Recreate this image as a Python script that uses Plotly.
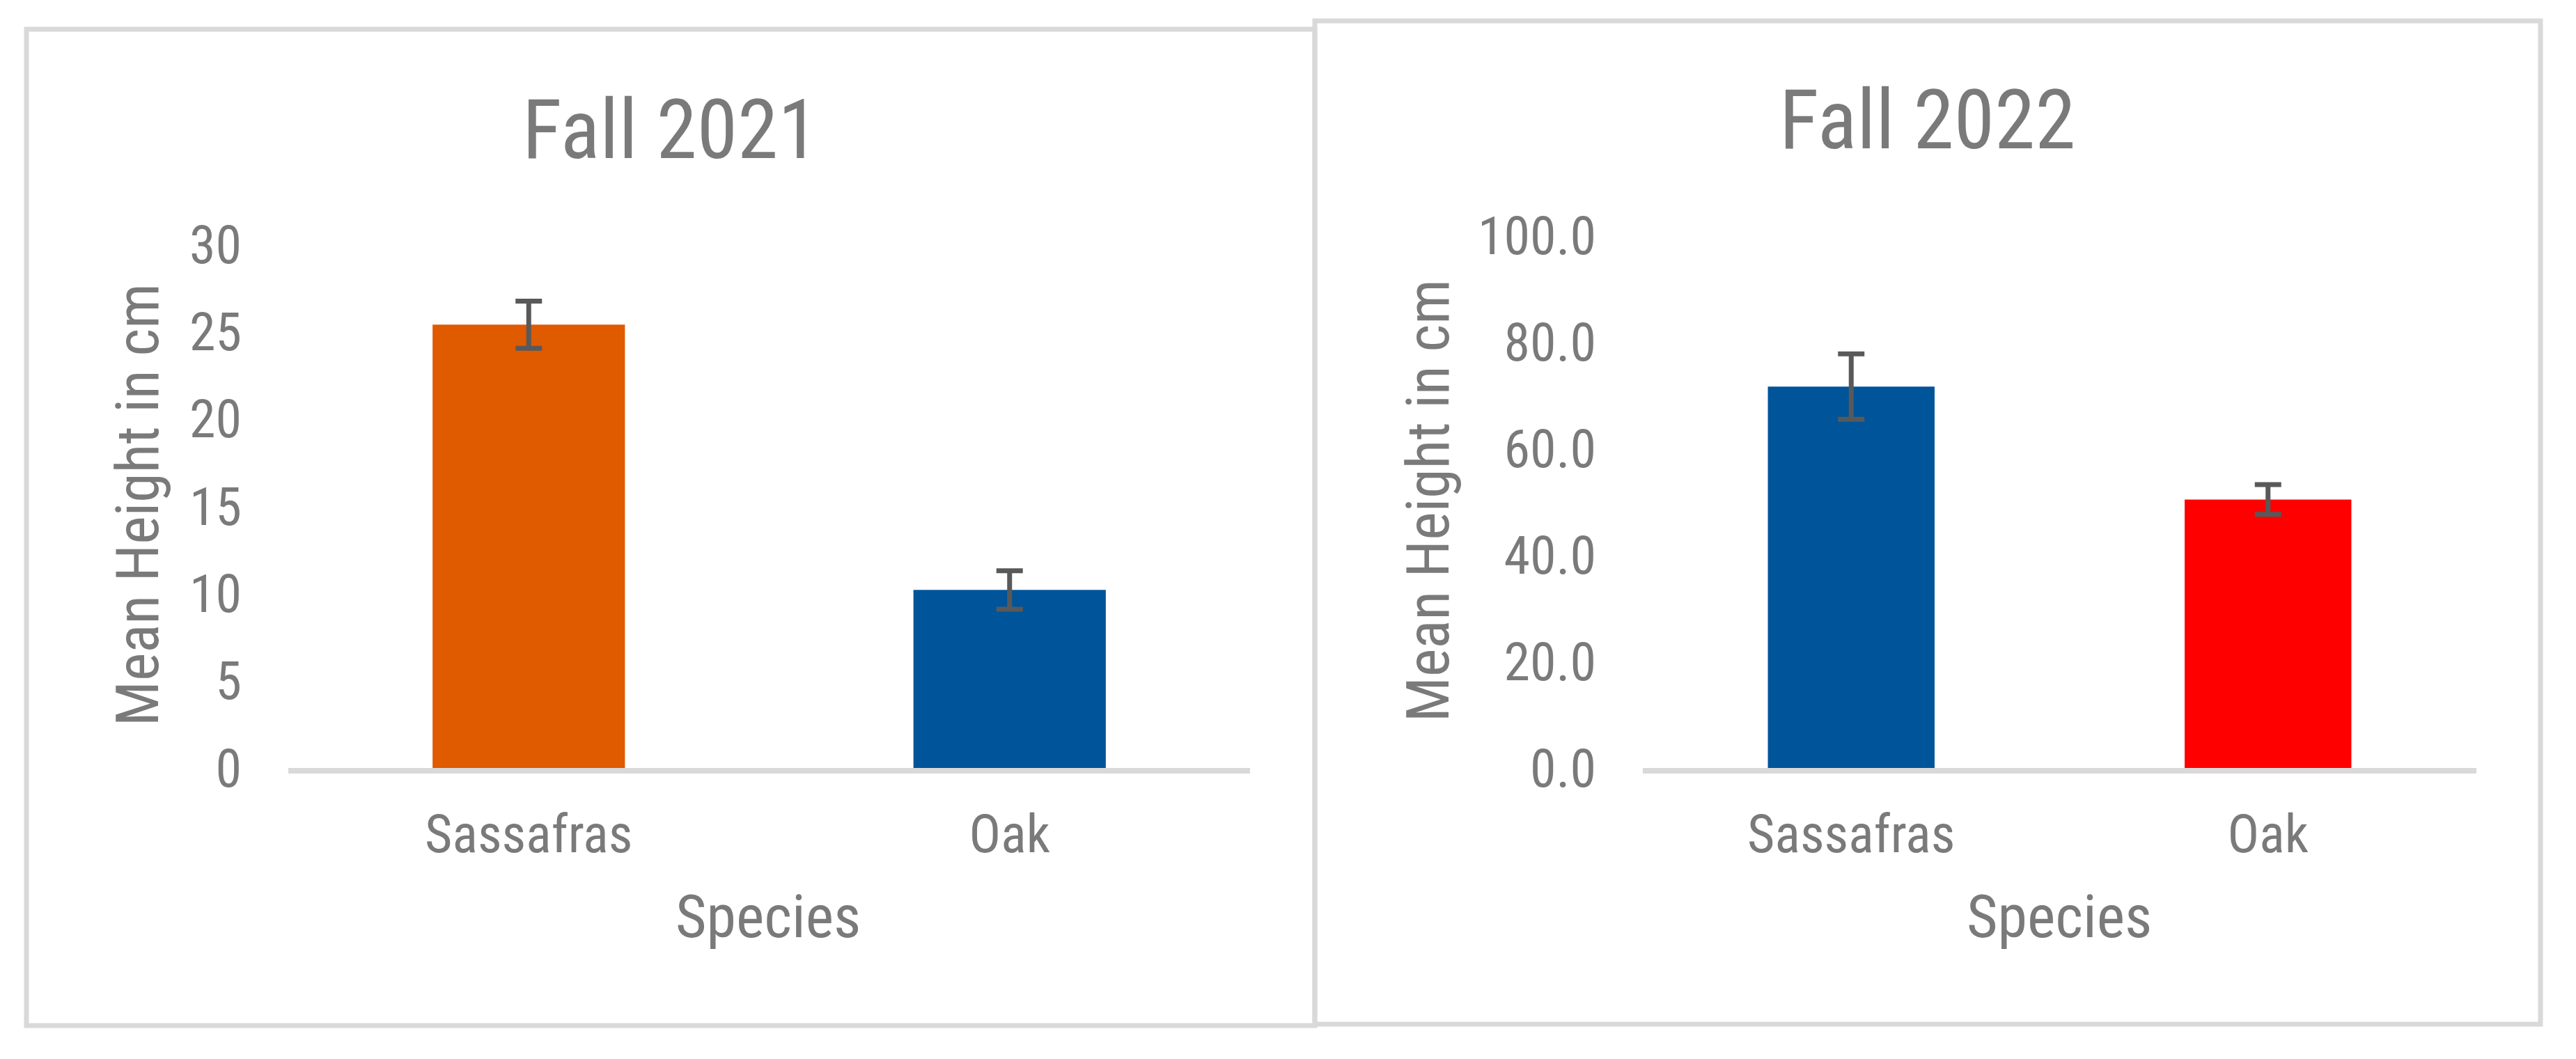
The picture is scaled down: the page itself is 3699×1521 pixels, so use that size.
import plotly.graph_objects as go

categories = ["Sassafras", "Oak"]
fall_2021_mean = [25.4, 10.2]
fall_2021_err = [1.35, 1.1]
fall_2022_mean = [71.6, 50.4]
fall_2022_err = [6.15, 2.8]
fall_2021_colors = ["#E05A00", "#00549A"]
fall_2022_colors = ["#00549A", "#FF0000"]
y1_ticks = [0, 5, 10, 15, 20, 25, 30]
y2_ticks = [0, 20, 40, 60, 80, 100]

W, H, OFF = 3683, 1505, 8


def px(x):
    return (x - OFF) / W


def py(y):
    return 1 - (y - OFF) / H


FONT = "Roboto Condensed, Liberation Sans Narrow, Arial Narrow, sans-serif"
TXT = "#7a7a7a"
ERR = "#595959"
BORDER = "#D9D9D9"

fig = go.Figure()
fig.add_trace(go.Bar(
    x=categories, y=fall_2021_mean,
    marker=dict(color=fall_2021_colors, line_width=0),
    error_y=dict(type="data", array=fall_2021_err, color=ERR, thickness=7, width=19),
    xaxis="x", yaxis="y", showlegend=False, hoverinfo="x+y"))
fig.add_trace(go.Bar(
    x=categories, y=fall_2022_mean,
    marker=dict(color=fall_2022_colors, line_width=0),
    error_y=dict(type="data", array=fall_2022_err, color=ERR, thickness=7, width=19),
    xaxis="x2", yaxis="y2", showlegend=False, hoverinfo="x+y"))

tickfont = dict(family=FONT, size=76, color=TXT)
xcommon = dict(showline=True, linecolor=BORDER, linewidth=8, ticks="", showgrid=False,
               zeroline=False, tickfont=tickfont, ticklabelstandoff=22, fixedrange=True,
               automargin=False)
ycommon = dict(showline=False, ticks="", showgrid=False, zeroline=False,
               tickfont=tickfont, ticklabelstandoff=66, fixedrange=True, automargin=False)

fig.update_layout(
    template="none",
    width=W, height=H,
    margin=dict(l=0, r=0, t=0, b=0, pad=0, autoexpand=False),
    showlegend=False,
    paper_bgcolor="white", plot_bgcolor="white",
    bargap=0.6,
    font=dict(family=FONT, color=TXT),
    xaxis=dict(domain=[px(414), px(1795)], anchor="y", **xcommon),
    yaxis=dict(domain=[py(1103), py(351)], anchor="x", range=[0, 30],
               tickvals=y1_ticks, **ycommon),
    xaxis2=dict(domain=[px(2359), px(3556)], anchor="y2", **xcommon),
    yaxis2=dict(domain=[py(1103), py(338)], anchor="x2", range=[0, 100],
                tickvals=y2_ticks, tickformat=".1f", **ycommon),
    shapes=[
        dict(type="rect", xref="paper", yref="paper", x0=px(38), x1=px(1888),
             y0=py(1473), y1=py(42), line=dict(color=BORDER, width=7), layer="below"),
        dict(type="rect", xref="paper", yref="paper", x0=px(1888), x1=px(3648),
             y0=py(1471), y1=py(30), line=dict(color=BORDER, width=7), layer="below"),
    ],
)

ann_font_title = dict(family=FONT, size=118, color=TXT)
ann_font_axis = dict(family=FONT, size=86, color=TXT)
annotations = [
    dict(text="Fall 2021", x=px(963), y=py(187), font=ann_font_title),
    dict(text="Fall 2022", x=px(2768), y=py(173), font=ann_font_title),
    dict(text="Mean Height in cm", x=px(197), y=py(725), textangle=-90, font=ann_font_axis),
    dict(text="Mean Height in cm", x=px(2050), y=py(719), textangle=-90, font=ann_font_axis),
    dict(text="Species", x=px(1103), y=py(1316), font=ann_font_axis),
    dict(text="Species", x=px(2957), y=py(1316), font=ann_font_axis),
]
for a in annotations:
    a.update(xref="paper", yref="paper", xanchor="center", yanchor="middle", showarrow=False)
    fig.add_annotation(**a)

fig.write_html("out.html")
